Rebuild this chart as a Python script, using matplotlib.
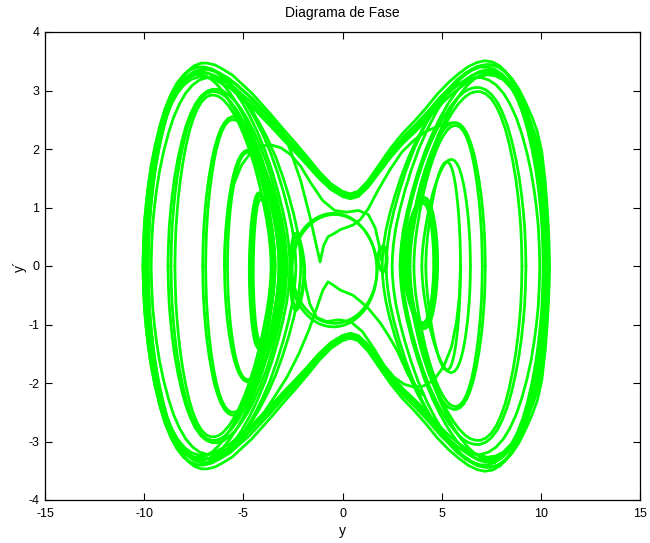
import matplotlib
matplotlib.use("Agg")
import matplotlib.pyplot as plt
from matplotlib.transforms import Affine2D
from matplotlib.patches import Ellipse

plt.rcParams["font.family"] = ["Liberation Sans", "DejaVu Sans"]
plt.rcParams["axes.unicode_minus"] = False

GREEN = "#00ff00"
LW = 2.0

# ── upper half of an outer loop in the left well (y, y') ────────────────────
WELL_X = [-10.06, -10.03, -9.98, -9.9, -9.8, -9.65, -9.45, -9.2, -8.95, -8.65,
          -8.35, -8.0, -7.65, -7.3, -7.0, -6.65, -6.3, -5.9, -5.5, -5.1,
          -4.7, -4.3, -3.9, -3.55, -3.25, -3.0, -2.82, -2.72, -2.67, -2.65]
WELL_Y = [0.0, 0.4, 0.75, 1.05, 1.35, 1.7, 2.05, 2.4, 2.68, 2.93,
          3.12, 3.27, 3.36, 3.40, 3.40, 3.37, 3.3, 3.18, 3.02, 2.82,
          2.58, 2.3, 1.97, 1.62, 1.27, 0.93, 0.63, 0.38, 0.18, 0.0]

# ── upper half of the orbit that crosses both wells (through the neck) ──────
BOW_X = [-10.06, -10.03, -9.98, -9.9, -9.8, -9.65, -9.45, -9.2, -8.95, -8.65,
         -8.35, -8.0, -7.65, -7.3, -7.0, -6.6, -6.2, -5.7, -5.2, -4.7,
         -4.2, -3.6, -3.0, -2.4, -1.8, -1.2, -0.6, 0.0, 0.4, 0.8,
         1.3, 1.9, 2.5, 3.1, 3.7, 4.3, 4.9, 5.5, 6.0, 6.5,
         6.95, 7.35, 7.75, 8.15, 8.55, 8.9, 9.25, 9.55, 9.82, 10.05,
         10.22, 10.33, 10.4, 10.43]
BOW_Y = [0.0, 0.4, 0.75, 1.05, 1.35, 1.7, 2.05, 2.4, 2.68, 2.93,
         3.12, 3.27, 3.36, 3.40, 3.40, 3.37, 3.3, 3.2, 3.05, 2.9,
         2.72, 2.5, 2.27, 2.05, 1.82, 1.58, 1.38, 1.25, 1.21, 1.25,
         1.42, 1.7, 1.98, 2.22, 2.42, 2.64, 2.88, 3.08, 3.22, 3.34,
         3.41, 3.44, 3.42, 3.35, 3.2, 3.02, 2.78, 2.55, 2.3, 1.95,
         1.45, 0.95, 0.5, 0.0]

# strands of the crossing orbit: horizontal / vertical scale
BOW_SX = [1.0, 0.99, 0.975, 0.995]
BOW_SY = [1.0, 0.97, 1.02, 0.95]

# left-well loops: left turn, right turn, peak y', vertical offset
LEFT_L = [-10.06, -9.98, -9.9, -9.8, -9.65, -8.8, -8.65, -8.45, -7.05, -6.9,
          -5.95, -5.8, -4.7, -4.6, -4.5, -2.65, -2.6]
LEFT_R = [-2.65, -2.35, -3.0, -3.4, -2.1, -2.8, -3.2, -3.6, -3.1, -3.4,
          -2.9, -3.2, -3.45, -3.5, -3.55, -1.9, -1.95]
LEFT_H = [3.40, 3.36, 3.32, 3.27, 3.22, 3.02, 2.98, 2.92, 2.55, 2.5,
          1.98, 1.94, 1.33, 1.28, 1.22, 0.66, 0.6]
LEFT_D = [0, 0, 0, 0, 0, 0, 0, 0, 0, 0,
          0, 0, -0.08, -0.08, -0.08, -0.1, -0.1]

# right-well loops: outer turn, inner turn, peak y', vertical offset
RIGHT_O = [10.43, 10.33, 10.25, 10.12, 9.95, 9.25, 9.05, 7.2, 7.05,
           6.45, 5.95, 4.8, 4.7, 4.6, 2.25, 2.2]
RIGHT_I = [2.5, 2.2, 2.9, 3.3, 2.0, 3.0, 3.4, 3.3, 3.6,
           4.0, 4.2, 3.05, 3.12, 3.2, 1.75, 1.8]
RIGHT_H = [3.44, 3.40, 3.35, 3.3, 3.22, 3.05, 2.98, 2.45, 2.4,
           1.82, 1.78, 1.12, 1.07, 1.02, 0.22, 0.2]
RIGHT_D = [0, 0, 0, 0, 0, 0, 0, 0, 0,
           0, 0, 0.05, 0.05, 0.05, 0.12, 0.12]

# inner neck strand (upper), drawn again point-mirrored for the lower one
NECK2_X = [-5.95, -5.9, -5.75, -5.5, -5.1, -4.6, -4.1, -3.6, -3.1, -2.6,
           -2.1, -1.6, -1.0, -0.4, 0.2, 0.8, 1.3, 1.65, 1.85, 1.95]
NECK2_Y = [0.0, 0.5, 0.95, 1.38, 1.72, 1.95, 2.05, 2.07, 2.02, 1.9,
           1.7, 1.42, 1.12, 0.95, 0.92, 0.95, 0.88, 0.65, 0.35, 0.1]

# cusp-shaped strands in the middle
CUSP_UP_X = [-6.3, -5.4, -4.6, -3.8, -3.0, -2.6, -2.1, -1.64, -1.35, -1.13,
             -0.95, -0.73, -0.4, -0.12, 0.2, 0.53, 0.89, 1.3, 1.8, 2.4,
             3.0, 3.6, 4.2, 4.9, 5.5]
CUSP_UP_Y = [3.3, 3.12, 2.88, 2.6, 2.3, 1.95, 1.45, 0.84, 0.4, 0.07,
             0.35, 0.5, 0.56, 0.62, 0.66, 0.70, 0.79, 0.98, 1.3, 1.65,
             1.95, 2.15, 2.3, 2.4, 2.45]
CUSP_LO_X = [4.0, 3.3, 2.75, 2.3, 1.9, 1.24, 0.53, -0.12, -0.45, -0.73,
             -1.0, -1.28, -1.7, -2.2, -2.8, -3.4, -4.1, -4.9, -5.8, -6.7]
CUSP_LO_Y = [-2.2, -1.85, -1.44, -1.18, -0.97, -0.7, -0.5, -0.41, -0.33, -0.27,
             -0.42, -0.7, -1.1, -1.5, -1.9, -2.22, -2.58, -2.9, -3.18, -3.33]

# central ring: centre x, centre y, width, height
RING_CX = [-0.45, -0.4]
RING_CY = [-0.07, -0.05]
RING_W = [4.38, 4.28]
RING_H = [1.94, 1.86]


fig = plt.figure(figsize=(6.5, 5.43), dpi=100)
ax = fig.add_axes([45 / 650, 43 / 543, 595 / 650, 468 / 543])


def draw(xs, ys, sx, sy, dx, dy):
    tr = Affine2D().scale(sx, sy).translate(dx, dy) + ax.transData
    ax.plot(xs, ys, color=GREEN, lw=LW, transform=tr,
            solid_joinstyle="round", solid_capstyle="round")


L0, R0 = WELL_X[0], WELL_X[-1]
H0 = max(WELL_Y)

for L, R, H, D in zip(LEFT_L, LEFT_R, LEFT_H, LEFT_D):
    sx = (R - L) / (R0 - L0)
    dx = L - sx * L0
    draw(WELL_X, WELL_Y, sx, H / H0, dx, D)
    draw(WELL_X, WELL_Y, sx, -H / H0, dx, D)

for O, I, H, D in zip(RIGHT_O, RIGHT_I, RIGHT_H, RIGHT_D):
    sx = -(O - I) / (R0 - L0)
    dx = O - sx * L0
    draw(WELL_X, WELL_Y, sx, H / H0, dx, D)
    draw(WELL_X, WELL_Y, sx, -H / H0, dx, D)

for sx, sy in zip(BOW_SX, BOW_SY):
    draw(BOW_X, BOW_Y, sx, sy, 0, 0)
    draw(BOW_X, BOW_Y, sx, -sy, 0, 0)

draw(NECK2_X, NECK2_Y, 1, 1, 0, 0)
draw(NECK2_X, NECK2_Y, -1, -1, 0, 0)
draw(CUSP_UP_X, CUSP_UP_Y, 1, 1, 0, 0)
draw(CUSP_LO_X, CUSP_LO_Y, 1, 1, 0, 0)

for cx, cy, w, h in zip(RING_CX, RING_CY, RING_W, RING_H):
    ax.add_patch(Ellipse((cx, cy), w, h, fill=False, ec=GREEN, lw=LW))

ax.set_xlim(-15, 15)
ax.set_ylim(-4, 4)
ax.set_xticks(range(-15, 16, 5))
ax.set_yticks(range(-4, 5))
ax.tick_params(direction="in", top=True, right=True, length=5, width=0.8,
               labelsize=9)
ax.tick_params(axis="x", pad=6)
ax.tick_params(axis="y", pad=4)
for s in ax.spines.values():
    s.set_linewidth(0.9)

ax.set_title("Diagrama de Fase", fontsize=10, pad=11)
ax.set_xlabel("y", fontsize=10, labelpad=3)
ax.set_ylabel("y´", fontsize=10, labelpad=1)

fig.savefig("out.png", dpi=100)
